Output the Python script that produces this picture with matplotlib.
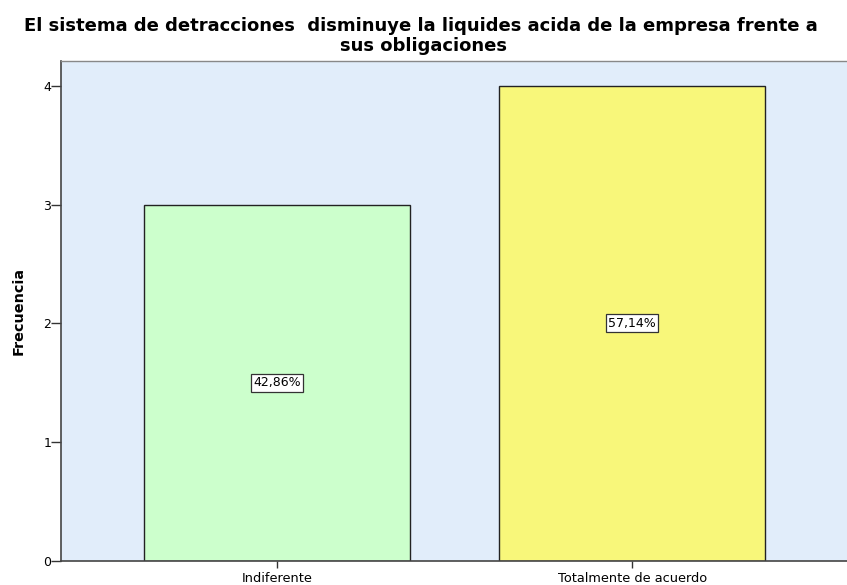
import matplotlib.pyplot as plt

plt.rcParams['font.family'] = ['DejaVu Sans']

# Datos del grafico
categorias = ['Indiferente', 'Totalmente de acuerdo']
frecuencias = [3, 4]
porcentajes = ['42,86%', '57,14%']
colores = ['#CCFFCC', '#F8F77A']
titulo = ['El sistema de detracciones  disminuye la liquides acida de la empresa frente a',
          'sus obligaciones']

fig = plt.figure(figsize=(8.47, 5.85), dpi=100)
ax = fig.add_axes([61 / 847, 24 / 585, 787 / 847, 500 / 585])
ax.set_facecolor('#E1EDFA')

x = list(range(len(categorias)))
ax.bar(x, frecuencias, width=0.75, color=colores, edgecolor='#222222', linewidth=1.0, zorder=2)

# Etiquetas de porcentaje en el medio de cada barra
for xi, f, p in zip(x, frecuencias, porcentajes):
    ax.text(xi, f / 2, p, ha='center', va='center', fontsize=9, color='black', zorder=3,
            bbox=dict(boxstyle='square,pad=0.2', fc='white', ec='#333333', lw=0.9))

ax.set_xlim(-0.608, 1.608)
ax.set_ylim(0, 4.21)
ax.set_yticks([0, 1, 2, 3, 4])
ax.set_xticks(x)
ax.set_xticklabels(categorias, fontsize=9.3)
ax.tick_params(axis='y', labelsize=9, length=7, width=1, color='#333333', pad=0)
ax.tick_params(axis='x', length=5, width=1, color='#333333', pad=3)

for s in ['left', 'bottom']:
    ax.spines[s].set_color('#444444')
    ax.spines[s].set_linewidth(1.2)
for s in ['top', 'right']:
    ax.spines[s].set_color('#888888')
    ax.spines[s].set_linewidth(1.0)

ax.set_ylabel('Frecuencia', fontsize=10.4, fontweight='bold', labelpad=13)

# Titulo en dos lineas
fig.text(421 / 847, 1 - 31 / 585, titulo[0], ha='center', va='baseline',
         fontsize=13, fontweight='bold')
fig.text(423 / 847, 1 - 51 / 585, titulo[1], ha='center', va='baseline',
         fontsize=13, fontweight='bold')

fig.savefig('out.png', dpi=100)
